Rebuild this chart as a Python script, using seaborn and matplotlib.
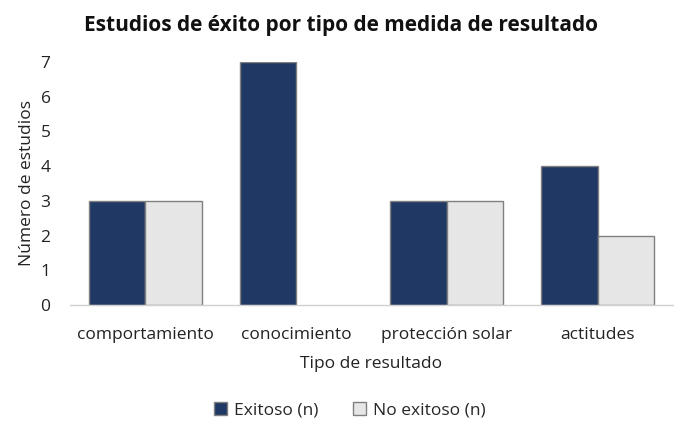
import matplotlib
matplotlib.use("Agg")
import matplotlib.pyplot as plt
from matplotlib.patches import Patch
import seaborn as sns
import pandas as pd

categorias = ["comportamiento", "conocimiento", "protección solar", "actitudes"]
exitoso = [3, 7, 3, 4]
no_exitoso = [3, 0, 3, 2]
series = ["Exitoso (n)", "No exitoso (n)"]
colores = ["#203864", "#E7E6E6"]

df = pd.DataFrame({
    "Tipo de resultado": categorias * 2,
    "Número de estudios": exitoso + no_exitoso,
    "Serie": [series[0]] * len(categorias) + [series[1]] * len(categorias),
})

sns.set_theme(style="white")
plt.rcParams["font.family"] = ["Open Sans", "DejaVu Sans"]

fig = plt.figure(figsize=(6.81, 4.23), dpi=100)
ax = fig.add_axes([70/681, 118/423, 603/681, 243/423])

sns.barplot(data=df, x="Tipo de resultado", y="Número de estudios", hue="Serie",
            palette=colores, width=0.75, ax=ax,
            edgecolor="#808080", linewidth=1.0, saturation=1, legend=False)

for cont in ax.containers:
    for p in cont.patches:
        if p.get_height() == 0:
            p.set_visible(False)

ax.set_ylim(0, 7)
ax.set_xlim(-0.5, 3.5)
ax.set_yticks(range(0, 8))
ax.tick_params(axis="both", labelsize=12.5, colors="#222222", length=0)
ax.tick_params(axis="y", pad=14)
ax.tick_params(axis="x", pad=16)
for s in ["top", "right", "left"]:
    ax.spines[s].set_visible(False)
ax.spines["bottom"].set_color("#D0D0D0")
ax.spines["bottom"].set_linewidth(1.0)

ax.set_xlabel("Tipo de resultado", fontsize=12.5, color="#222222", labelpad=9)
ax.set_ylabel("Número de estudios", fontsize=12.5, color="#222222", labelpad=4)

fig.suptitle("Estudios de éxito por tipo de medida de resultado", x=341/681, y=1 - 26/423,
             va="center", fontsize=15, fontweight="bold", color="#111111")

handles = [Patch(facecolor=c, edgecolor="#808080", linewidth=1.0) for c in colores]
fig.legend(handles, series, loc="center", bbox_to_anchor=(350/681, 1 - 410/423), ncol=2,
           frameon=False, fontsize=12.5, handlelength=0.75, handleheight=0.75,
           columnspacing=2.0, handletextpad=0.4)

fig.savefig("out.png", dpi=100)
